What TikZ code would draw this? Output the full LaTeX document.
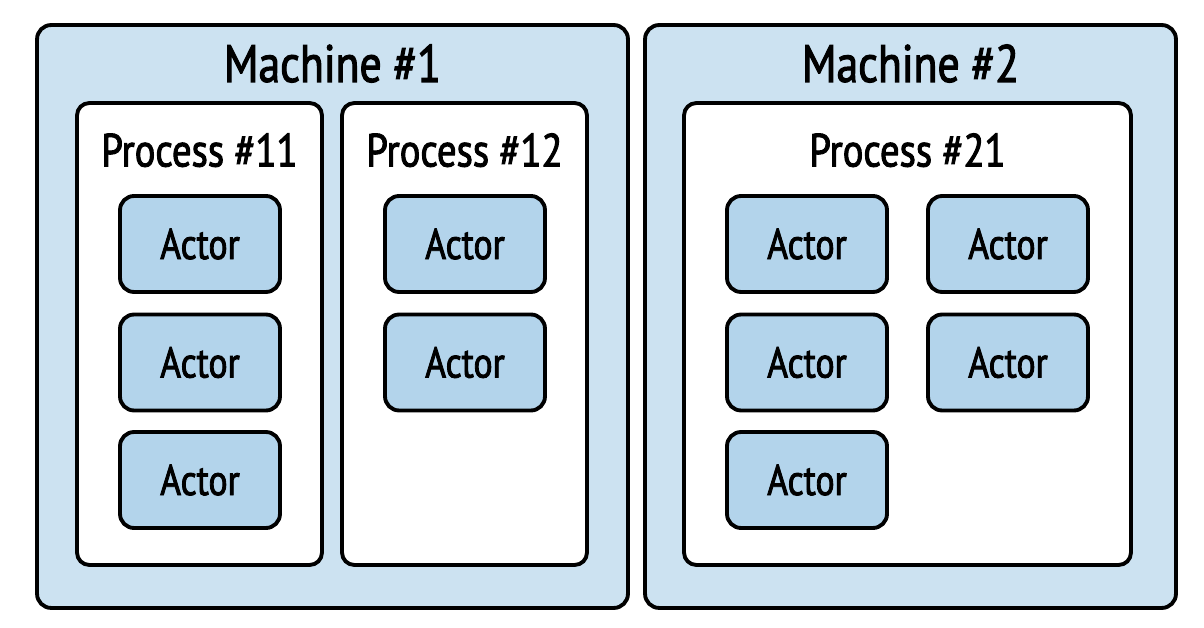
\documentclass[tikz,border=0pt]{standalone}
\usepackage{fontspec}
\setmainfont{PT Sans}[FakeStretch=0.83, FakeBold=2]
\definecolor{machinefill}{HTML}{CCE2F1}
\definecolor{actorfill}{HTML}{B3D4EB}
\tikzset{
  machine/.style={rectangle, rounded corners=8pt, draw, line width=2.2pt, fill=machinefill, minimum width=11.82cm, minimum height=11.66cm},
  process/.style={rectangle, rounded corners=7pt, draw, line width=2.2pt, fill=white, minimum width=4.9cm, minimum height=9.24cm},
  actor/.style={rectangle, rounded corners=8pt, draw, line width=2.2pt, fill=actorfill, minimum width=3.2cm, minimum height=1.92cm, font=\fontsize{24.5}{29}\selectfont},
  mtitle/.style={anchor=base, inner sep=0pt, font=\fontsize{30}{36}\selectfont},
  ptitle/.style={anchor=base, inner sep=0pt, font=\fontsize{26.5}{31}\selectfont}
}
\begin{document}
\begin{tikzpicture}[x=0.02cm, y=-0.02cm]
    \useasboundingbox (0,0) rectangle (1204,628);
    % マシンを描画
    \node[machine] (M1) at (332.5, 316.5) {};
    \node[machine, minimum width=10.62cm] (M2) at (910.5, 316.5) {};
    \node[mtitle] (M1t) at (332.5, 82) {Machine \#1};
    \node[mtitle] (M2t) at (910.5, 82) {Machine \#2};

    % プロセスを描画
    \node[process] (P11) at (199.5, 334) {};
    \node[process] (P12) at (464.5, 334) {};
    \node[process, minimum width=8.94cm] (P21) at (907.5, 334) {};
    \node[ptitle] (P11t) at (199.5, 166.5) {Process \#11};
    \node[ptitle] (P12t) at (464.5, 166.5) {Process \#12};
    \node[ptitle] (P21t) at (907.5, 166.5) {Process \#21};

    % アクターを描画
    \node[actor] (A1) at (200, 244) {Actor};
    \node[actor] (A2) at (200, 362.5) {Actor};
    \node[actor] (A3) at (200, 480) {Actor};
    \node[actor] (A4) at (465, 244) {Actor};
    \node[actor] (A5) at (465, 362.5) {Actor};
    \node[actor] (A6) at (807, 244) {Actor};
    \node[actor] (A7) at (807, 362.5) {Actor};
    \node[actor] (A8) at (807, 480) {Actor};
    \node[actor] (A9) at (1008, 244) {Actor};
    \node[actor] (A10) at (1008, 362.5) {Actor};
\end{tikzpicture}
\end{document}
